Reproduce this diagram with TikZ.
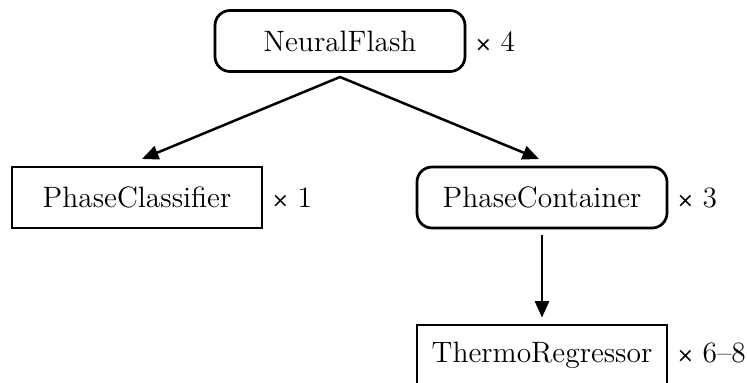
\documentclass[tikz,border=0pt]{standalone}
\usepackage{fontspec}
\newfontfamily\signfont{DejaVu Sans}
\usetikzlibrary{arrows.meta}
\newcommand{\timesn}[1]{{\signfont\fontsize{8.2}{8}\selectfont ×}\hspace{3.4pt}#1}
\begin{document}
\begin{tikzpicture}[x=0.4pt,y=-0.4pt,
  box/.style={draw,line width=1.1pt,minimum width=100pt,minimum height=24.4pt,
    inner sep=0pt,font=\fontsize{11.8}{13}\selectfont},
  roundbox/.style={box,rounded corners=6pt},
  count/.style={anchor=base west,inner sep=0pt,font=\fontsize{11.8}{13}\selectfont},
  arr/.style={line width=1pt,-{Triangle[length=6.6pt,width=5.6pt]}}]
\clip (0,0) rectangle (747,382);
\useasboundingbox (0,0) rectangle (747,382);
% modules
\node[roundbox] (nf)  at (340,41)    {NeuralFlash};
\node[box]      (pcl) at (137,197.5) {PhaseClassifier};
\node[roundbox] (pco) at (542,197.5) {PhaseContainer};
\node[box]      (tr)  at (542,355.5) {ThermoRegressor};
% repetition counts
\node[count] (n1) at ([xshift=3.2pt]nf.east |- nf.base)   {\timesn{4}};
\node[count] (n2) at ([xshift=3.2pt]pcl.east |- pcl.base) {\timesn{1}};
\node[count] (n3) at ([xshift=3.2pt]pco.east |- pco.base) {\timesn{3}};
\node[count] (n4) at ([xshift=3.2pt]tr.east |- tr.base)   {\timesn{6--8}};
% connectors
\coordinate (split) at (340,77);
\coordinate (tipL) at (142,159);
\coordinate (tipR) at (539,159);
\draw[arr] (split) -- (tipL);
\draw[arr] (split) -- (tipR);
\draw[arr] ([yshift=-2.4pt]pco.south) -- ([yshift=2.4pt]tr.north);
\end{tikzpicture}
\end{document}
